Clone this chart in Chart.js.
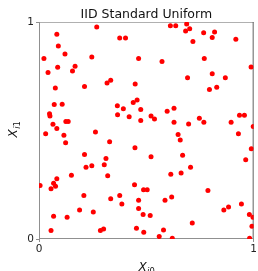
<!DOCTYPE html>
<html>
<head>
<meta charset="utf-8">
<script src="https://cdn.jsdelivr.net/npm/chart.js@4"></script>
<style>
  html, body { margin: 0; padding: 0; background: #fff; }
  canvas { display: block; }
</style>
</head>
<body>
<canvas id="myChart" width="258" height="271"></canvas>
<script>
// sample values
var xVals = [
  0.269, 0.083, 0.090, 0.023, 0.121, 0.246, 0.042, 0.087, 0.156, 0.168,
  0.076, 0.212, 0.317, 0.334, 0.376, 0.403, 0.464, 0.573, 0.612, 0.637,
  0.688, 0.702, 0.683, 0.717, 0.767, 0.807, 0.818, 0.917, 0.770, 0.692,
  0.807, 0.794, 0.828, 0.868, 0.988, 0.071, 0.108, 0.049, 0.051, 0.065,
  0.083, 0.125, 0.136, 0.031, 0.116, 0.124, 0.263, 0.365, 0.366, 0.393,
  0.420, 0.439, 0.457, 0.448, 0.474, 0.474, 0.522, 0.538, 0.597, 0.629,
  0.629, 0.697, 0.648, 0.658, 0.747, 0.768, 0.895, 0.934, 0.957, 0.998,
  0.929, 0.989, 0.963, 0.329, 0.212, 0.219, 0.246, 0.312, 0.304, 0.320,
  0.447, 0.522, 0.669, 0.706, 0.662, 0.614, 0.151, 0.083, 0.005, 0.068,
  0.077, 0.056, 0.445, 0.487, 0.504, 0.376, 0.334, 0.209, 0.464, 0.386,
  0.464, 0.485, 0.518, 0.587, 0.618, 0.787, 0.943, 0.883, 0.861, 0.189,
  0.253, 0.068, 0.131, 0.056, 0.286, 0.301, 0.454, 0.488, 0.580, 0.560,
  0.621, 0.714, 0.980, 0.997, 0.992, 0.981
];
var yVals = [
  0.977, 0.944, 0.889, 0.832, 0.852, 0.839, 0.767, 0.791, 0.774, 0.796,
  0.696, 0.703, 0.719, 0.731, 0.926, 0.926, 0.832, 0.818, 0.983, 0.983,
  0.991, 0.969, 0.958, 0.910, 0.951, 0.929, 0.954, 0.921, 0.832, 0.743,
  0.762, 0.689, 0.699, 0.743, 0.793, 0.620, 0.621, 0.577, 0.567, 0.529,
  0.509, 0.541, 0.541, 0.485, 0.478, 0.444, 0.493, 0.614, 0.573, 0.600,
  0.563, 0.629, 0.641, 0.714, 0.597, 0.546, 0.567, 0.553, 0.589, 0.603,
  0.538, 0.530, 0.481, 0.456, 0.556, 0.538, 0.538, 0.570, 0.570, 0.518,
  0.485, 0.416, 0.365, 0.448, 0.389, 0.331, 0.338, 0.371, 0.342, 0.291,
  0.420, 0.379, 0.386, 0.331, 0.304, 0.298, 0.294, 0.278, 0.246, 0.257,
  0.243, 0.232, 0.250, 0.227, 0.227, 0.201, 0.185, 0.201, 0.178, 0.161,
  0.141, 0.113, 0.108, 0.178, 0.193, 0.223, 0.161, 0.148, 0.134, 0.134,
  0.124, 0.105, 0.100, 0.039, 0.039, 0.046, 0.049, 0.031, 0.042, 0.011,
  0.003, 0.074, 0.113, 0.100, 0.059, 0.003
];
var tickVals = [0, 1];
var titleText = 'IID Standard Uniform';
var xLabel = ['X', 'i', '0'];
var yLabel = ['X', 'i', '1'];

var points = [];
for (var i = 0; i < xVals.length; i++) {
  points.push({ x: xVals[i], y: yVals[i] });
}

Chart.defaults.font.family = 'DejaVu Sans';

// draws X with a small italic i and upright digit, like mathtext
function drawMathLabel(ctx, parts, size) {
  var sub = size * 0.7;
  ctx.font = 'italic ' + size + 'px DejaVu Sans';
  var w0 = ctx.measureText(parts[0]).width;
  ctx.font = 'italic ' + sub + 'px DejaVu Sans';
  var w1 = ctx.measureText(parts[1]).width;
  ctx.font = sub + 'px DejaVu Sans';
  var w2 = ctx.measureText(parts[2]).width;
  var x = -(w0 + w1 + w2) / 2;
  ctx.textBaseline = 'alphabetic';
  ctx.textAlign = 'left';
  ctx.font = 'italic ' + size + 'px DejaVu Sans';
  ctx.fillText(parts[0], x, 0);
  ctx.font = 'italic ' + sub + 'px DejaVu Sans';
  ctx.fillText(parts[1], x + w0 + 0.5, size * 0.22);
  ctx.font = sub + 'px DejaVu Sans';
  ctx.fillText(parts[2], x + w0 + w1 + 0.5, size * 0.22);
}

var framePlugin = {
  id: 'frame',
  beforeDatasetsDraw: function(chart) {
    var a = chart.chartArea;
    var ctx = chart.ctx;
    ctx.save();
    ctx.lineWidth = 1;
    ctx.strokeStyle = '#b0b0b0';
    ctx.beginPath();
    ctx.moveTo(a.left, a.top + 0.5);
    ctx.lineTo(a.right, a.top + 0.5);
    ctx.stroke();
    ctx.strokeStyle = '#606060';
    ctx.beginPath();
    ctx.moveTo(a.right - 0.5, a.top);
    ctx.lineTo(a.right - 0.5, a.bottom);
    ctx.stroke();
    ctx.strokeStyle = '#909090';
    ctx.beginPath();
    ctx.moveTo(a.left + 0.5, a.top);
    ctx.lineTo(a.left + 0.5, a.bottom);
    ctx.moveTo(a.left, a.bottom - 0.5);
    ctx.lineTo(a.right, a.bottom - 0.5);
    ctx.stroke();
    ctx.restore();
  },
  afterDraw: function(chart) {
    var a = chart.chartArea;
    var ctx = chart.ctx;
    var cx = (a.left + a.right) / 2;
    var cy = (a.top + a.bottom) / 2;
    ctx.save();
    ctx.fillStyle = '#111';
    ctx.font = '12.5px DejaVu Sans';
    ctx.textAlign = 'center';
    ctx.textBaseline = 'alphabetic';
    ctx.fillText(titleText, cx, 18);

    ctx.save();
    ctx.translate(cx, 271);
    drawMathLabel(ctx, xLabel, 12);
    ctx.restore();

    ctx.save();
    ctx.translate(17, cy - 1);
    ctx.rotate(-Math.PI / 2);
    drawMathLabel(ctx, yLabel, 12);
    ctx.restore();
    ctx.restore();
  }
};

var ctx = document.getElementById('myChart').getContext('2d');
var myChart = new Chart(ctx, {
  type: 'scatter',
  data: {
    datasets: [{
      data: points,
      backgroundColor: '#ff0000',
      borderWidth: 0,
      pointRadius: 2.5,
      pointHoverRadius: 2.5,
      clip: 0
    }]
  },
  options: {
    responsive: false,
    animation: false,
    devicePixelRatio: 1,
    layout: { padding: { left: 0, top: 22, right: 3, bottom: 0 } },
    plugins: {
      legend: { display: false },
      tooltip: { enabled: false },
      title: { display: false }
    },
    scales: {
      x: {
        type: 'linear',
        min: 0,
        max: 1,
        afterFit: function(s) { s.height = 32; },
        afterBuildTicks: function(s) { s.ticks = tickVals.map(function(v) { return { value: v }; }); },
        ticks: {
          color: '#222',
          font: { size: 10.5 },
          padding: 1,
          maxRotation: 0,
          callback: function(v) { return String(v); }
        },
        grid: { drawOnChartArea: false, drawTicks: true, tickLength: 3, color: '#909090' },
        border: { display: false }
      },
      y: {
        type: 'linear',
        min: 0,
        max: 1,
        afterFit: function(s) { s.width = 39; },
        afterBuildTicks: function(s) { s.ticks = tickVals.map(function(v) { return { value: v }; }); },
        ticks: {
          color: '#222',
          font: { size: 10.5 },
          padding: 2,
          callback: function(v) { return String(v); }
        },
        grid: { drawOnChartArea: false, drawTicks: true, tickLength: 3, color: '#909090' },
        border: { display: false }
      }
    }
  },
  plugins: [framePlugin]
});
</script>
</body>
</html>
